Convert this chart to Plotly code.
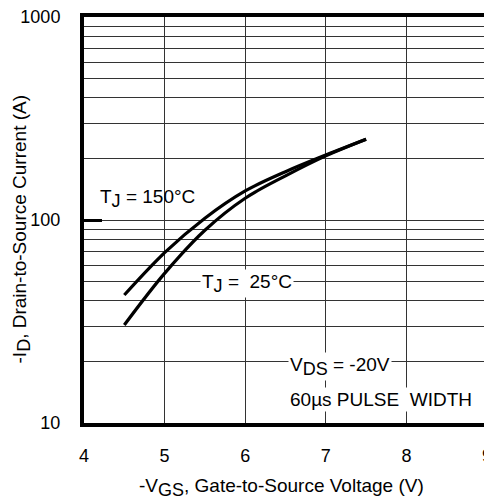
import plotly.graph_objects as go
import math

vgs = [4.5, 5.0, 5.5, 6.0, 6.5, 7.0, 7.5]
id_150 = [42.7, 69, 102, 139, 173, 209, 250]
id_25 = [30.4, 54.6, 89, 128, 165, 207, 250]

x_ticks = [4, 5, 6, 7, 8, 9]
y_major = [10, 100, 1000]
y_minor = [m * d for d in (10, 100) for m in range(2, 10)]

FONT = "Liberation Sans, Arial, sans-serif"
FS = 18


def sub(s, size):
    return f"<sub><span style='font-size:{size}px'>{s}</span></sub>"


fig = go.Figure()
for ys in (id_150, id_25):
    fig.add_trace(go.Scatter(x=vgs, y=ys, mode="lines",
                             line=dict(color="black", width=3.2, shape="spline"),
                             showlegend=False, hoverinfo="skip"))

ann = dict(showarrow=False, font=dict(family=FONT, size=19, color="black"),
           xanchor="left", yanchor="middle")
fig.add_annotation(x=4.17, y=math.log10(128), text="T" + sub("J", 18) + " = 150°C", **ann)
fig.add_annotation(x=5.44, y=math.log10(48.5), text="T" + sub("J", 18) + " =\u00a0 25°C", bgcolor="white", **ann)
fig.add_annotation(x=6.53, y=math.log10(19), text="V" + sub("DS", 18) + " = -20V", bgcolor="white", **ann)
fig.add_annotation(x=6.53, y=math.log10(13), text="60µs PULSE\u00a0 WIDTH", bgcolor="white", **ann)

# axis titles
fig.add_annotation(xref="paper", yref="paper", x=0.491, y=-0.160,
                   text="-V" + sub("GS", 18) + ", Gate-to-Source Voltage (V)",
                   showarrow=False, font=dict(family=FONT, size=19, color="black"),
                   xanchor="center", yanchor="middle")
fig.add_annotation(xref="paper", yref="paper", x=-0.155, y=0.478, textangle=-90,
                   text="-I" + sub("D", 18) + ", Drain-to-Source Current (A)",
                   showarrow=False, font=dict(family=FONT, size=19, color="black"),
                   xanchor="center", yanchor="middle")

fig.update_layout(
    width=484, height=496,
    margin=dict(l=76, r=5, t=9, b=81, autoexpand=False),
    paper_bgcolor="white", plot_bgcolor="white",
    font=dict(family=FONT, size=FS, color="black"),
)
fig.update_xaxes(
    range=[4, 9], tickvals=x_ticks, showgrid=True, gridcolor="#333", gridwidth=1,
    showline=True, linecolor="black", linewidth=4, mirror=True, zeroline=False,
    ticks="", ticklabelstandoff=13, automargin=False, ticklabeloverflow="allow",
)
fig.update_yaxes(
    type="log", range=[1, 3], tickvals=y_major, ticktext=[str(v) for v in y_major],
    showgrid=True, gridcolor="#333", gridwidth=1,
    minor=dict(tickmode="array", tickvals=y_minor, showgrid=True, gridcolor="#333", gridwidth=1, ticks=""),
    showline=True, linecolor="black", linewidth=4, mirror=True, zeroline=False,
    ticks="inside", ticklen=18, tickwidth=2.5, tickcolor="black", ticklabelstandoff=16,
    automargin=False, ticklabeloverflow="allow",
)
fig.write_html("out.html")
